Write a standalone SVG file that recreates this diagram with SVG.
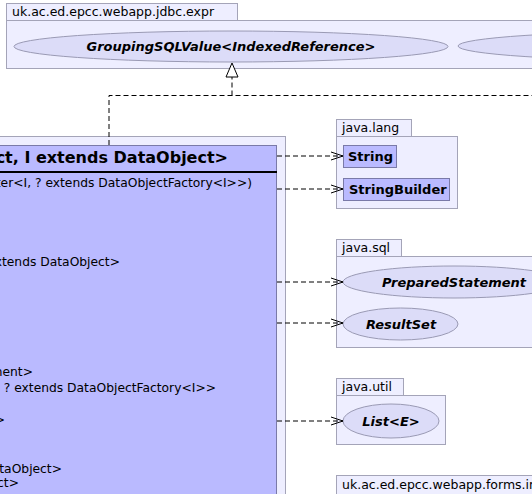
<svg xmlns="http://www.w3.org/2000/svg" width="532" height="494" viewBox="0 0 532 494">
<style>
text{font-family:"DejaVu Sans","Liberation Sans",sans-serif;fill:#000}
.pkg{fill:#eeeeff;stroke:#a4a4b8;stroke-width:1}
.pt{font-size:12.5px}
.cls{fill:#babaff;stroke:#7a7aa8;stroke-width:1}
.ell{fill:#dcdcf8;stroke:#9a9ab4;stroke-width:1}
.bi{font-size:13px;font-weight:bold;font-style:italic}
.b{font-size:13px;font-weight:bold}
.m{font-size:12.3px}
.dep{fill:none;stroke:#000;stroke-width:1;stroke-dasharray:5,3}
</style>
<defs>
<marker id="open" markerWidth="14" markerHeight="10" refX="13" refY="5" orient="auto" markerUnits="userSpaceOnUse">
<path d="M1,1 L13,5 L1,9" fill="none" stroke="#000" stroke-width="1"/>
</marker>
</defs>

<g id="pkg-jdbc-expr">
<rect class="pkg" x="6.5" y="3.5" width="231" height="17"/>
<rect class="pkg" x="6.5" y="20.5" width="540" height="48"/>
<text class="pt" x="12" y="16">uk.ac.ed.epcc.webapp.jdbc.expr</text>
<g id="GroupingSQLValue">
<ellipse class="ell" cx="231" cy="46.5" rx="217" ry="15.5"/>
<text class="bi" x="231" y="51" text-anchor="middle">GroupingSQLValue&lt;IndexedReference&gt;</text>
</g>
<g id="other-expr">
<ellipse class="ell" cx="690" cy="46" rx="232" ry="15"/>
</g>
</g>

<g id="pkg-main">
<rect class="pkg" x="-20.5" y="136.5" width="306" height="380"/>
<g id="main-class">
<rect class="cls" x="-10.5" y="145.5" width="287" height="370"/>
<line x1="-10" y1="172" x2="277" y2="172" stroke="#000" stroke-width="2"/>
<text x="228" y="163" text-anchor="end" style="font-size:16px;font-weight:bold">ect, I extends DataObject&gt;</text>
<text class="m" x="252" y="187" text-anchor="end">ter&lt;I, ? extends DataObjectFactory&lt;I&gt;&gt;)</text>
<text class="m" x="120" y="266" text-anchor="end">extends DataObject&gt;</text>
<text class="m" x="33" y="376" text-anchor="end">ement&gt;</text>
<text class="m" x="216" y="392" text-anchor="end">I, ? extends DataObjectFactory&lt;I&gt;&gt;</text>
<text class="m" x="5" y="424" text-anchor="end">Object&gt;</text>
<text class="m" x="62" y="473" text-anchor="end">DataObject&gt;</text>
<text class="m" x="19" y="487" text-anchor="end">ect&gt;</text>
</g>
</g>

<g id="pkg-java-lang">
<rect class="pkg" x="336.5" y="119.5" width="75" height="17"/>
<rect class="pkg" x="336.5" y="136.5" width="121" height="72"/>
<text class="pt" x="342" y="132">java.lang</text>
<g id="String">
<rect class="cls" x="343.5" y="145.5" width="53" height="22"/>
<text class="b" x="348" y="161">String</text>
</g>
<g id="StringBuilder">
<rect class="cls" x="343.5" y="178.5" width="106" height="22"/>
<text class="b" x="349" y="194">StringBuilder</text>
</g>
</g>

<g id="pkg-java-sql">
<rect class="pkg" x="336.5" y="239.5" width="65" height="17"/>
<rect class="pkg" x="336.5" y="256.5" width="220" height="91"/>
<text class="pt" x="342" y="252">java.sql</text>
<g id="PreparedStatement">
<ellipse class="ell" cx="454" cy="282" rx="111" ry="16"/>
<text class="bi" x="454" y="286.5" text-anchor="middle">PreparedStatement</text>
</g>
<g id="ResultSet">
<ellipse class="ell" cx="400.5" cy="324" rx="57.5" ry="16"/>
<text class="bi" x="401" y="328.5" text-anchor="middle">ResultSet</text>
</g>
</g>

<g id="pkg-java-util">
<rect class="pkg" x="336.5" y="378.5" width="67" height="17"/>
<rect class="pkg" x="336.5" y="395.5" width="109" height="49"/>
<text class="pt" x="342" y="391">java.util</text>
<g id="List">
<ellipse class="ell" cx="391" cy="421" rx="48" ry="17"/>
<text class="bi" x="391" y="425.5" text-anchor="middle">List&lt;E&gt;</text>
</g>
</g>

<g id="pkg-forms">
<rect class="pkg" x="336.5" y="475.5" width="230" height="30"/>
<text class="pt" x="342" y="489">uk.ac.ed.epcc.webapp.forms.inputs</text>
</g>

<g id="connectors">
<path class="dep" d="M109,145 V95.5 H540"/>
<path class="dep" d="M232,95.5 V77"/>
<polygon points="232,63 226,77 238,77" fill="#fff" stroke="#000" stroke-width="1"/>
<line class="dep" x1="277" y1="156" x2="343" y2="156" marker-end="url(#open)"/>
<line class="dep" x1="277" y1="189" x2="343" y2="189" marker-end="url(#open)"/>
<line class="dep" x1="277" y1="282" x2="343" y2="282" marker-end="url(#open)"/>
<line class="dep" x1="277" y1="323" x2="343" y2="323" marker-end="url(#open)"/>
<line class="dep" x1="277" y1="421" x2="343" y2="421" marker-end="url(#open)"/>
</g>
</svg>
